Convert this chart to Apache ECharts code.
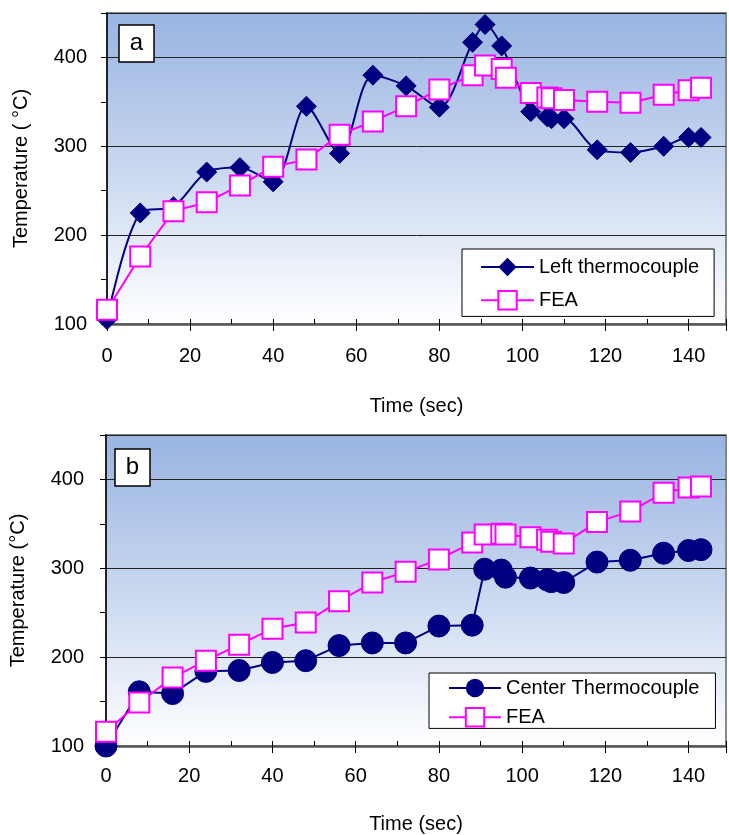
<!DOCTYPE html>
<html>
<head>
<meta charset="utf-8">
<script src="https://cdn.jsdelivr.net/npm/echarts@6/dist/echarts.min.js"></script>
<style>
  html, body { margin: 0; padding: 0; background: #fff; }
  #chart { width: 729px; height: 835px; }
</style>
</head>
<body>
<div id="chart"></div>
<script>
// panel a
var leftTime = [0, 8, 16, 24, 32, 40, 48, 56, 64, 72, 80, 88, 91, 95, 102, 106, 107, 110, 118, 126, 134, 140, 143];
var leftTemp = [105, 225, 232, 271, 276, 260, 345, 292, 380, 368, 344, 417, 437, 413, 339, 333, 331, 331, 296, 293, 300, 310, 310];
var feaTimeA = [0, 8, 16, 24, 32, 40, 48, 56, 64, 72, 80, 88, 91, 95, 96, 102, 106, 107, 110, 118, 126, 134, 140, 143];
var feaTempA = [116, 176, 227, 237, 256, 277, 285, 313, 328, 345, 364, 380, 391, 387, 377, 360, 355, 354, 352, 350, 349, 358, 363, 366];

// panel b
var centerTime = [0, 8, 16, 24, 32, 40, 48, 56, 64, 72, 80, 88, 91, 95, 96, 102, 106, 107, 110, 118, 126, 134, 140, 143];
var centerTemp = [100, 161, 159, 184, 185, 194, 196, 213, 216, 216, 235, 236, 299, 298, 290, 289, 287, 285, 284, 307, 309, 317, 320, 321];
var feaTimeB = [0, 8, 16, 24, 32, 40, 48, 56, 64, 72, 80, 88, 91, 95, 96, 102, 106, 107, 110, 118, 126, 134, 140, 143];
var feaTempB = [116, 149, 177, 196, 214, 232, 239, 263, 284, 296, 310, 329, 338, 339, 338, 335, 332, 330, 328, 352, 364, 385, 391, 392];

var FONT = "'Liberation Sans', Arial, sans-serif";
var FS = 20;
var NAVY = '#000080';
var PINK = '#ff00ff';

function pairs(xs, ys) {
  return xs.map(function (x, i) { return [x, ys[i]]; });
}

var bg = {
  type: 'linear', x: 0, y: 0, x2: 0, y2: 1,
  colorStops: [
    { offset: 0, color: '#98b4e2' },
    { offset: 0.5, color: '#c9d7ef' },
    { offset: 1, color: '#ffffff' }
  ]
};

function xMain(grid, gap, margin) {
  return {
    gridIndex: grid, type: 'value', min: 0, max: 149, interval: 10,
    name: 'Time (sec)', nameLocation: 'middle', nameGap: gap,
    nameTextStyle: { fontFamily: FONT, fontSize: FS, color: '#000' },
    axisLine: { lineStyle: { color: '#555', width: 2.5 } },
    axisTick: { show: false },
    axisLabel: {
      margin: margin, fontFamily: FONT, fontSize: FS, color: '#000',
      formatter: function (v) { return v % 20 === 0 ? v : ''; }
    },
    splitLine: { show: false }
  };
}

function xTicks(grid, interval, inside, len) {
  return {
    gridIndex: grid, type: 'value', min: 0, max: 149, interval: interval,
    position: 'bottom',
    axisLine: { show: false },
    axisTick: { inside: inside, length: len, lineStyle: { color: '#000', width: 1 } },
    axisLabel: { show: false },
    splitLine: { show: false }
  };
}

function yMain(grid, name, gap, margin) {
  return {
    gridIndex: grid, type: 'value', min: 100, max: 450, interval: 50,
    name: name, nameLocation: 'middle', nameGap: gap,
    nameTextStyle: { fontFamily: FONT, fontSize: FS, color: '#000' },
    axisLine: { lineStyle: { color: '#000', width: 1.5 } },
    axisTick: { length: 6, lineStyle: { color: '#000' } },
    axisLabel: {
      margin: margin, fontFamily: FONT, fontSize: FS, color: '#000',
      formatter: function (v) { return v % 100 === 0 ? v : ''; }
    },
    splitLine: { show: false }
  };
}

function yGrid(grid) {
  return {
    gridIndex: grid, type: 'value', min: 100, max: 450, interval: 100,
    position: 'left',
    axisLine: { show: false },
    axisTick: { show: false },
    axisLabel: { show: false },
    splitLine: { lineStyle: { color: '#222', width: 1 } }
  };
}

var chart = echarts.init(document.getElementById('chart'));
chart.setOption({
  animation: false,
  backgroundColor: '#fff',
  grid: [
    { left: 107, top: 13, right: 1, height: 311, show: true, backgroundColor: bg, borderColor: '#888', borderWidth: 2 },
    { left: 102, top: 435, right: 0, height: 314, show: true, backgroundColor: bg, borderColor: '#888', borderWidth: 2 }
  ],
  xAxis: [
    xMain(0, 72, 22),
    xTicks(0, 20, false, 7),
    xTicks(0, 10, true, 5),
    xMain(1, 68, 20),
    xTicks(1, 20, false, 7),
    xTicks(1, 10, true, 5)
  ],
  yAxis: [
    yMain(0, 'Temperature ( °C)', 76, 20),
    yGrid(0),
    yMain(1, 'Temperature (°C)', 78, 22),
    yGrid(1)
  ],
  legend: [
    {
      left: 462, top: 249, orient: 'vertical', selectedMode: false,
      data: ['Left thermocouple', 'FEA a'],
      formatter: function (n) { return n === 'FEA a' ? 'FEA' : n; },
      backgroundColor: '#fff', borderColor: '#000', borderWidth: 1,
      padding: [8, 15, 6, 18], itemWidth: 53, itemHeight: 23, itemGap: 13,
      textStyle: { fontFamily: FONT, fontSize: FS, color: '#000' }
    },
    {
      left: 429, top: 673, orient: 'vertical', selectedMode: false,
      data: ['Center Thermocouple', 'FEA b'],
      formatter: function (n) { return n === 'FEA b' ? 'FEA' : n; },
      backgroundColor: '#fff', borderColor: '#000', borderWidth: 1,
      padding: [5, 16, 1, 19], itemWidth: 52, itemHeight: 23, itemGap: 9,
      textStyle: { fontFamily: FONT, fontSize: FS, color: '#000' }
    }
  ],
  graphic: [
    { type: 'rect', shape: { x: 119, y: 25, width: 35, height: 37 }, style: { fill: '#fff', stroke: '#000', lineWidth: 1.5 }, z: 100 },
    { type: 'text', x: 136.5, y: 43.5, style: { text: 'a', fontFamily: FONT, fontSize: 24, fill: '#000', align: 'center', verticalAlign: 'middle' }, z: 101 },
    { type: 'rect', shape: { x: 115, y: 449, width: 35, height: 37 }, style: { fill: '#fff', stroke: '#000', lineWidth: 1.5 }, z: 100 },
    { type: 'text', x: 132.5, y: 467.5, style: { text: 'b', fontFamily: FONT, fontSize: 24, fill: '#000', align: 'center', verticalAlign: 'middle' }, z: 101 }
  ],
  series: [
    {
      name: 'Left thermocouple', type: 'line', xAxisIndex: 0, yAxisIndex: 0,
      data: pairs(leftTime, leftTemp), smooth: 0.3, clip: false,
      symbol: 'diamond', symbolSize: 20,
      lineStyle: { color: NAVY, width: 2 },
      itemStyle: { color: NAVY, borderColor: NAVY }
    },
    {
      name: 'FEA a', type: 'line', xAxisIndex: 0, yAxisIndex: 0,
      data: pairs(feaTimeA, feaTempA), clip: false,
      symbol: 'rect', symbolSize: 20,
      lineStyle: { color: PINK, width: 2 },
      itemStyle: { color: '#fff', borderColor: PINK, borderWidth: 2 }
    },
    {
      name: 'Center Thermocouple', type: 'line', xAxisIndex: 3, yAxisIndex: 2,
      data: pairs(centerTime, centerTemp), clip: false,
      symbol: 'circle', symbolSize: 22,
      lineStyle: { color: NAVY, width: 2 },
      itemStyle: { color: NAVY, borderColor: NAVY }
    },
    {
      name: 'FEA b', type: 'line', xAxisIndex: 3, yAxisIndex: 2,
      data: pairs(feaTimeB, feaTempB), clip: false,
      symbol: 'rect', symbolSize: 20,
      lineStyle: { color: PINK, width: 2 },
      itemStyle: { color: '#fff', borderColor: PINK, borderWidth: 2 }
    }
  ]
});
</script>
</body>
</html>
